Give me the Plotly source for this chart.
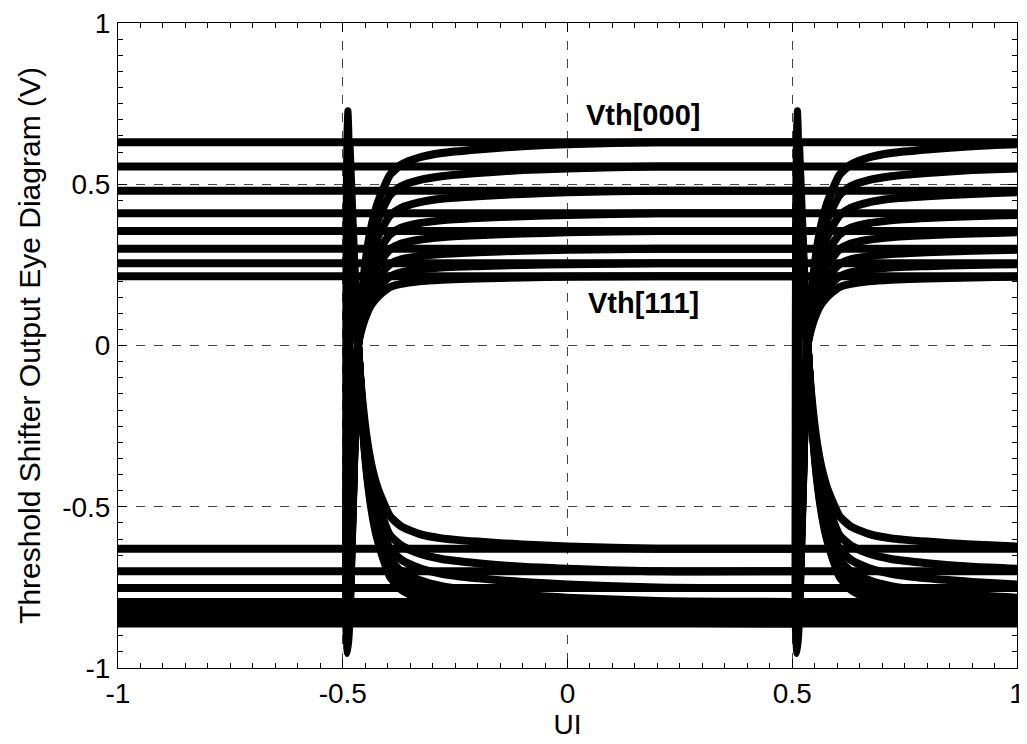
import plotly.graph_objects as go

# ---------------- data ----------------
# settled output levels for the 8 threshold settings Vth[000] .. Vth[111]
high_levels = [0.63, 0.555, 0.48, 0.41, 0.355, 0.30, 0.255, 0.215]
low_levels = [-0.63, -0.70, -0.752, -0.795, -0.815, -0.83, -0.845, -0.862]

# sample positions (UI) of one transition (the one near -0.5 UI)
transition_x = [-0.485, -0.476, -0.466, -0.455, -0.445, -0.435, -0.424, -0.41,
                -0.395, -0.37, -0.33, -0.28, -0.20, -0.10, 0.0, 0.2, 0.5]

# rising edges (low -> high), one list per setting
rising_y = [
    [-0.63, -0.315, 0.0, 0.189, 0.302, 0.378, 0.435, 0.485, 0.529, 0.561, 0.583, 0.597, 0.608, 0.618, 0.624, 0.63, 0.63],
    [-0.70, -0.35, 0.0, 0.167, 0.266, 0.333, 0.383, 0.427, 0.466, 0.494, 0.513, 0.525, 0.535, 0.544, 0.549, 0.555, 0.555],
    [-0.752, -0.376, 0.0, 0.144, 0.230, 0.288, 0.331, 0.370, 0.403, 0.427, 0.444, 0.455, 0.463, 0.470, 0.475, 0.48, 0.48],
    [-0.795, -0.398, 0.0, 0.123, 0.197, 0.246, 0.283, 0.316, 0.344, 0.365, 0.379, 0.388, 0.395, 0.401, 0.405, 0.41, 0.41],
    [-0.815, -0.408, 0.0, 0.107, 0.170, 0.213, 0.245, 0.273, 0.298, 0.316, 0.328, 0.336, 0.342, 0.347, 0.351, 0.355, 0.355],
    [-0.83, -0.415, 0.0, 0.090, 0.144, 0.180, 0.207, 0.231, 0.252, 0.267, 0.277, 0.284, 0.289, 0.294, 0.297, 0.30, 0.30],
    [-0.845, -0.423, 0.0, 0.077, 0.122, 0.153, 0.176, 0.196, 0.214, 0.227, 0.236, 0.242, 0.246, 0.250, 0.252, 0.255, 0.255],
    [-0.862, -0.431, 0.0, 0.065, 0.103, 0.129, 0.148, 0.166, 0.181, 0.191, 0.199, 0.204, 0.208, 0.211, 0.213, 0.215, 0.215],
]

# falling edges (high -> low), one list per setting
falling_y = [
    [0.63, 0.315, 0.0, -0.189, -0.302, -0.378, -0.435, -0.485, -0.529, -0.561, -0.584, -0.598, -0.608, -0.617, -0.623, -0.63, -0.63],
    [0.555, 0.278, 0.0, -0.210, -0.336, -0.420, -0.483, -0.539, -0.588, -0.620, -0.645, -0.662, -0.675, -0.686, -0.692, -0.70, -0.70],
    [0.48, 0.24, 0.0, -0.226, -0.361, -0.451, -0.519, -0.579, -0.630, -0.664, -0.690, -0.708, -0.722, -0.733, -0.741, -0.750, -0.752],
    [0.41, 0.205, 0.0, -0.239, -0.382, -0.477, -0.549, -0.610, -0.662, -0.700, -0.727, -0.746, -0.761, -0.773, -0.782, -0.792, -0.795],
    [0.355, 0.178, 0.0, -0.245, -0.391, -0.489, -0.562, -0.625, -0.678, -0.716, -0.744, -0.764, -0.780, -0.792, -0.801, -0.812, -0.815],
    [0.30, 0.15, 0.0, -0.249, -0.398, -0.498, -0.573, -0.636, -0.690, -0.729, -0.758, -0.778, -0.794, -0.807, -0.816, -0.827, -0.83],
    [0.255, 0.128, 0.0, -0.254, -0.406, -0.507, -0.583, -0.648, -0.703, -0.742, -0.771, -0.792, -0.808, -0.821, -0.831, -0.842, -0.845],
    [0.215, 0.108, 0.0, -0.259, -0.414, -0.517, -0.595, -0.661, -0.717, -0.757, -0.787, -0.808, -0.825, -0.838, -0.848, -0.859, -0.862],
]

# narrow glitch spike seen at each bit boundary (closed loop)
spike_x = [-0.4895, -0.4930, -0.4935, -0.4925, -0.4905, -0.4885, -0.4865, -0.4848, -0.4840, -0.4850, -0.4895]
spike_y = [-0.955, -0.88, -0.30, 0.40, 0.66, 0.728, 0.66, 0.40, -0.30, -0.88, -0.955]

ui_periods = [0.0, 1.0]          # the two transitions shown in the 2-UI window
window = [-1.0, 1.0]

x_ticks = [-1, -0.5, 0, 0.5, 1]
x_tick_text = ["-1", "-0.5", "0", "0.5", "1"]
y_ticks = [-1, -0.5, 0, 0.5, 1]
y_tick_text = ["-1", "-0.5", "0", "0.5", "1"]

labels = ["Vth[000]", "Vth[111]"]
label_x = [0.168, 0.168]
label_y = [0.714, 0.133]

# ---------------- figure ----------------
LW = 8
fig = go.Figure()

for lv in high_levels + low_levels:
    fig.add_trace(go.Scatter(x=window, y=[lv, lv], mode="lines",
                             line=dict(color="black", width=LW),
                             hoverinfo="skip", showlegend=False))

for shift in ui_periods:
    xs = [v + shift for v in transition_x]
    for ys in rising_y + falling_y:
        fig.add_trace(go.Scatter(x=xs, y=ys, mode="lines",
                                 line=dict(color="black", width=LW, shape="spline", smoothing=0.6),
                                 hoverinfo="skip", showlegend=False))
    fig.add_trace(go.Scatter(x=[v + shift for v in spike_x], y=spike_y, mode="lines",
                             line=dict(color="black", width=7, shape="spline", smoothing=0.7),
                             fill="toself", fillcolor="black",
                             hoverinfo="skip", showlegend=False))

for t, lx, ly in zip(labels, label_x, label_y):
    fig.add_annotation(x=lx, y=ly, text="<b>%s</b>" % t, showarrow=False,
                       font=dict(family="Liberation Sans, Arial", size=29, color="black"))

axis_common = dict(
    showline=True, linecolor="black", linewidth=1, mirror="allticks",
    ticks="inside", ticklen=9, tickcolor="black", tickwidth=1,
    showgrid=True, gridcolor="#444444", griddash="dash", gridwidth=1,
    zeroline=False, automargin=False, ticklabeloverflow="allow",
    tickfont=dict(family="Liberation Sans, Arial", size=28, color="black"),
    minor=dict(ticks="inside", ticklen=5, tickcolor="black", dtick=0.05, showgrid=False),
)

# the page body adds an 8 px offset, so the figure is 8 px smaller than the window
fig.update_layout(
    width=1019, height=736,
    paper_bgcolor="white", plot_bgcolor="white",
    margin=dict(l=110, r=10, t=15, b=76),
    font=dict(family="Liberation Sans, Arial", color="black"),
    xaxis=dict(range=window, tickvals=x_ticks, ticktext=x_tick_text,
               ticklabelstandoff=0,
               title=dict(text="UI", font=dict(size=28), standoff=0), **axis_common),
    yaxis=dict(range=[-1, 1], tickvals=y_ticks, ticktext=y_tick_text,
               ticklabelstandoff=1,
               title=dict(text="Threshold Shifter Output Eye Diagram (V)", font=dict(size=30), standoff=12),
               **axis_common),
)

fig.write_html("out.html")
